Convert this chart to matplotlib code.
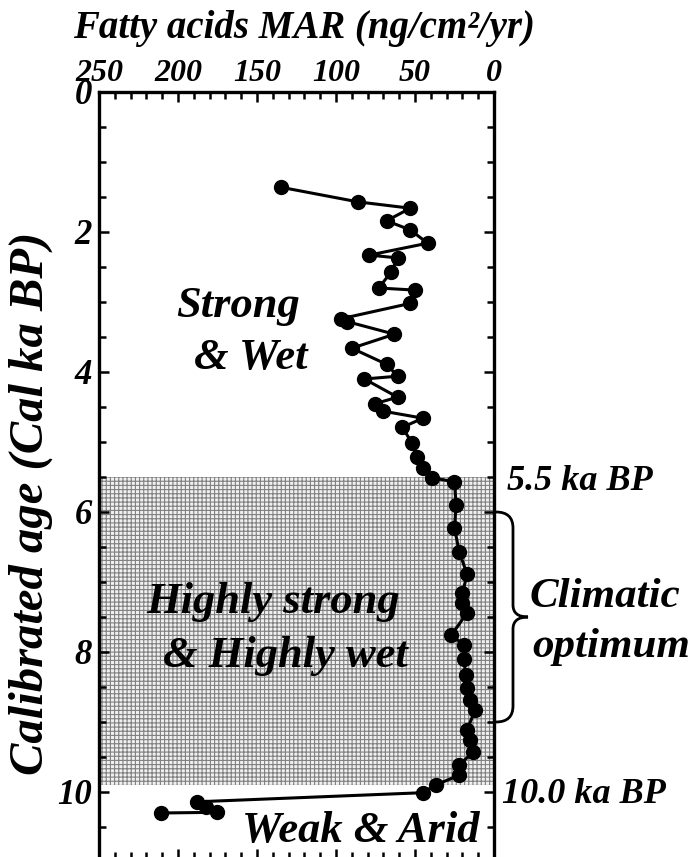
import numpy as np
import matplotlib.pyplot as plt
from matplotlib.path import Path
from matplotlib.patches import PathPatch
from matplotlib.ticker import MultipleLocator

# Fatty acids MAR (ng/cm2/yr) versus calibrated age (cal ka BP)
age = [1.36, 1.57, 1.66, 1.84, 1.97, 2.16, 2.33, 2.37, 2.57, 2.80, 2.83, 3.02,
       3.24, 3.28, 3.46, 3.66, 3.89, 4.06, 4.10, 4.36, 4.45, 4.56, 4.66, 4.79,
       5.01, 5.21, 5.37, 5.51, 5.57, 5.90, 6.23, 6.57, 6.89, 7.16, 7.30, 7.44,
       7.76, 7.90, 8.10, 8.33, 8.51, 8.69, 8.83, 9.11, 9.26, 9.43, 9.61, 9.76,
       9.90, 10.01, 10.14, 10.21, 10.29, 10.30]
mar = [135, 86, 53, 68, 53, 42, 79, 61, 65, 73, 50, 53,
       97, 93, 63, 90, 68, 61, 82, 61, 75, 70, 45, 58,
       52, 49, 45, 39, 25, 24, 25, 22, 17, 20, 20, 17,
       27, 19, 19, 18, 17, 15, 12, 17, 15, 13, 22, 22,
       37, 45, 188, 182, 175, 211]

shade = [5.5, 9.9]          # highly strong & highly wet interval
brace_span = [6.0, 9.0]     # climatic optimum

plt.rcParams['font.family'] = ['Liberation Serif', 'DejaVu Serif']
plt.rcParams['font.weight'] = 'bold'
plt.rcParams['font.style'] = 'italic'
plt.rcParams['hatch.linewidth'] = 0.8
plt.rcParams['hatch.color'] = '#808080'

W, H = 699, 857
fig = plt.figure(figsize=(W / 100, H / 100), dpi=100)
ax = fig.add_axes([99 / W, (H - 858.5) / H, 395 / W, 766.5 / H])

ax.axhspan(shade[0], shade[1], facecolor='#f0f0f0', hatch='++++', edgecolor='#808080',
           linewidth=0, zorder=0)
ax.plot(mar, age, '-o', color='black', lw=2.2, ms=10, zorder=3)

ax.set_xlim(250, 0)
ax.set_ylim(10.95, 0)
ax.xaxis.set_major_locator(MultipleLocator(50))
ax.xaxis.set_minor_locator(MultipleLocator(10))
ax.yaxis.set_major_locator(MultipleLocator(2))
ax.yaxis.set_minor_locator(MultipleLocator(0.5))
ax.xaxis.tick_top()
ax.tick_params(which='both', direction='in', top=True, bottom=True, left=True, right=True,
               width=1.8)
ax.tick_params(which='major', length=7)
ax.tick_params(which='minor', length=5)
ax.tick_params(axis='x', labelsize=23, pad=3)
ax.tick_params(axis='y', labelsize=25, pad=5)
ax.set_yticks([0, 2, 4, 6, 8, 10])
for s in ax.spines.values():
    s.set_linewidth(2.4)

def fx(px):
    return px / W

def fy(py):
    return 1 - py / H

fig.text(fx(304), fy(38), 'Fatty acids MAR (ng/cm\u00b2/yr)', ha='center',
         va='baseline', fontsize=28)
fig.text(fx(31), fy(503), 'Calibrated age (Cal ka BP)', rotation=90, ha='center',
         va='center', fontsize=35)

fig.text(fx(238), fy(317), 'Strong', ha='center', va='baseline', fontsize=32)
fig.text(fx(251), fy(369), '& Wet', ha='center', va='baseline', fontsize=32)
fig.text(fx(273), fy(613), 'Highly strong', ha='center', va='baseline', fontsize=32)
fig.text(fx(285), fy(667), '& Highly wet', ha='center', va='baseline', fontsize=32)
fig.text(fx(480), fy(842), 'Weak & Arid', ha='right', va='baseline', fontsize=32)

fig.text(fx(507), fy(490), '5.5 ka BP', ha='left', va='baseline', fontsize=26)
fig.text(fx(502), fy(803), '10.0 ka BP', ha='left', va='baseline', fontsize=26)
fig.text(fx(530), fy(607), 'Climatic', ha='left', va='baseline', fontsize=31)
fig.text(fx(532), fy(657), 'optimum', ha='left', va='baseline', fontsize=31)

# curly brace for the climatic optimum, built in pixel space
y0 = 92 + brace_span[0] * 70
y1 = 92 + brace_span[1] * 70
ym = (y0 + y1) / 2
xa, xb, xt = 496, 513, 528
pts = [(xa, y0), (xb, y0), (xb, y0 + 16), (xb, ym - 12), (xb, ym), (xt, ym),
       (xb, ym), (xb, ym + 12), (xb, y1 - 16), (xb, y1), (xa, y1)]
codes = [Path.MOVETO, Path.CURVE3, Path.CURVE3, Path.LINETO, Path.CURVE3, Path.CURVE3,
         Path.CURVE3, Path.CURVE3, Path.LINETO, Path.CURVE3, Path.CURVE3]
verts = [(fx(x), fy(y)) for x, y in pts]
fig.patches.append(PathPatch(Path(verts, codes), transform=fig.transFigure, fill=False,
                             lw=2.0, color='black'))

fig.savefig('out.png', dpi=100)
